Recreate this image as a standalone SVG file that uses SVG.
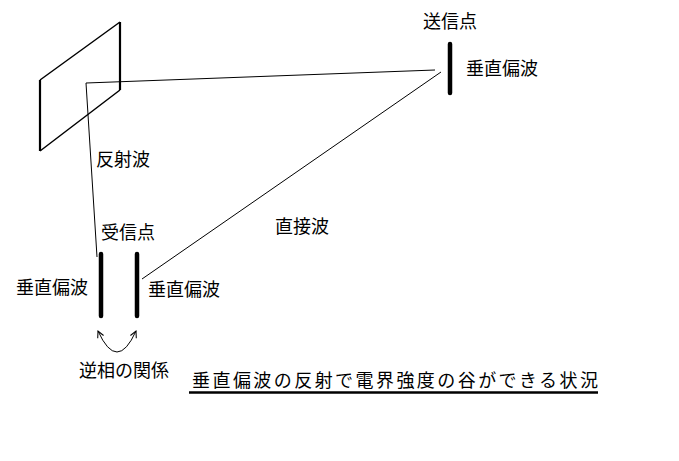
<svg xmlns="http://www.w3.org/2000/svg" width="679" height="461" viewBox="0 0 679 461">
<style>
text{font-family:"Noto Sans CJK JP","Noto Sans",sans-serif;font-size:18px;fill:#000}
.thin{stroke:#000;stroke-width:1;fill:none}
.ant{stroke:#000;stroke-width:4.5;stroke-linecap:round;fill:none}
</style>
<defs>
<marker id="ah" viewBox="0 0 10 10" refX="9" refY="5" markerWidth="8" markerHeight="8" markerUnits="userSpaceOnUse" orient="auto-start-reverse">
<path d="M1,1 L9,5 L1,9" fill="none" stroke="#000" stroke-width="1.3"/>
</marker>
</defs>
<rect width="679" height="461" fill="#fff"/>
<g id="reflector">
<path d="M40,80 L120,22 M40,151 L120,90" stroke="#000" stroke-width="1.5" fill="none"/>
<path d="M40,80 L40,151 M120,22 L120,90" stroke="#000" stroke-width="2.2" fill="none"/>
</g>
<g id="connectors">
<polyline class="thin" points="435,70 86,83 97,257"/>
<line class="thin" x1="142" y1="279" x2="441" y2="72"/>
<path class="thin" d="M98,331 Q117,373 136,331" marker-start="url(#ah)" marker-end="url(#ah)"/>
</g>
<g id="transmitter">
<line class="ant" x1="450" y1="44" x2="450" y2="93"/>
<text x="423" y="28">送信点</text>
<text x="466" y="75">垂直偏波</text>
</g>
<g id="receiver">
<line class="ant" x1="101" y1="254" x2="101" y2="316"/>
<line class="ant" x1="137" y1="254" x2="137" y2="316"/>
<text x="101" y="239">受信点</text>
<text x="16" y="294">垂直偏波</text>
<text x="148" y="296">垂直偏波</text>
<text x="79" y="377">逆相の関係</text>
</g>
<g id="labels">
<text x="96" y="166">反射波</text>
<text x="275" y="233">直接波</text>
</g>
<g id="title">
<text x="192" y="387" textLength="406" lengthAdjust="spacing">垂直偏波の反射で電界強度の谷ができる状況</text>
<line x1="189" y1="392.5" x2="598" y2="392.5" stroke="#000" stroke-width="2.5"/>
</g>
</svg>
